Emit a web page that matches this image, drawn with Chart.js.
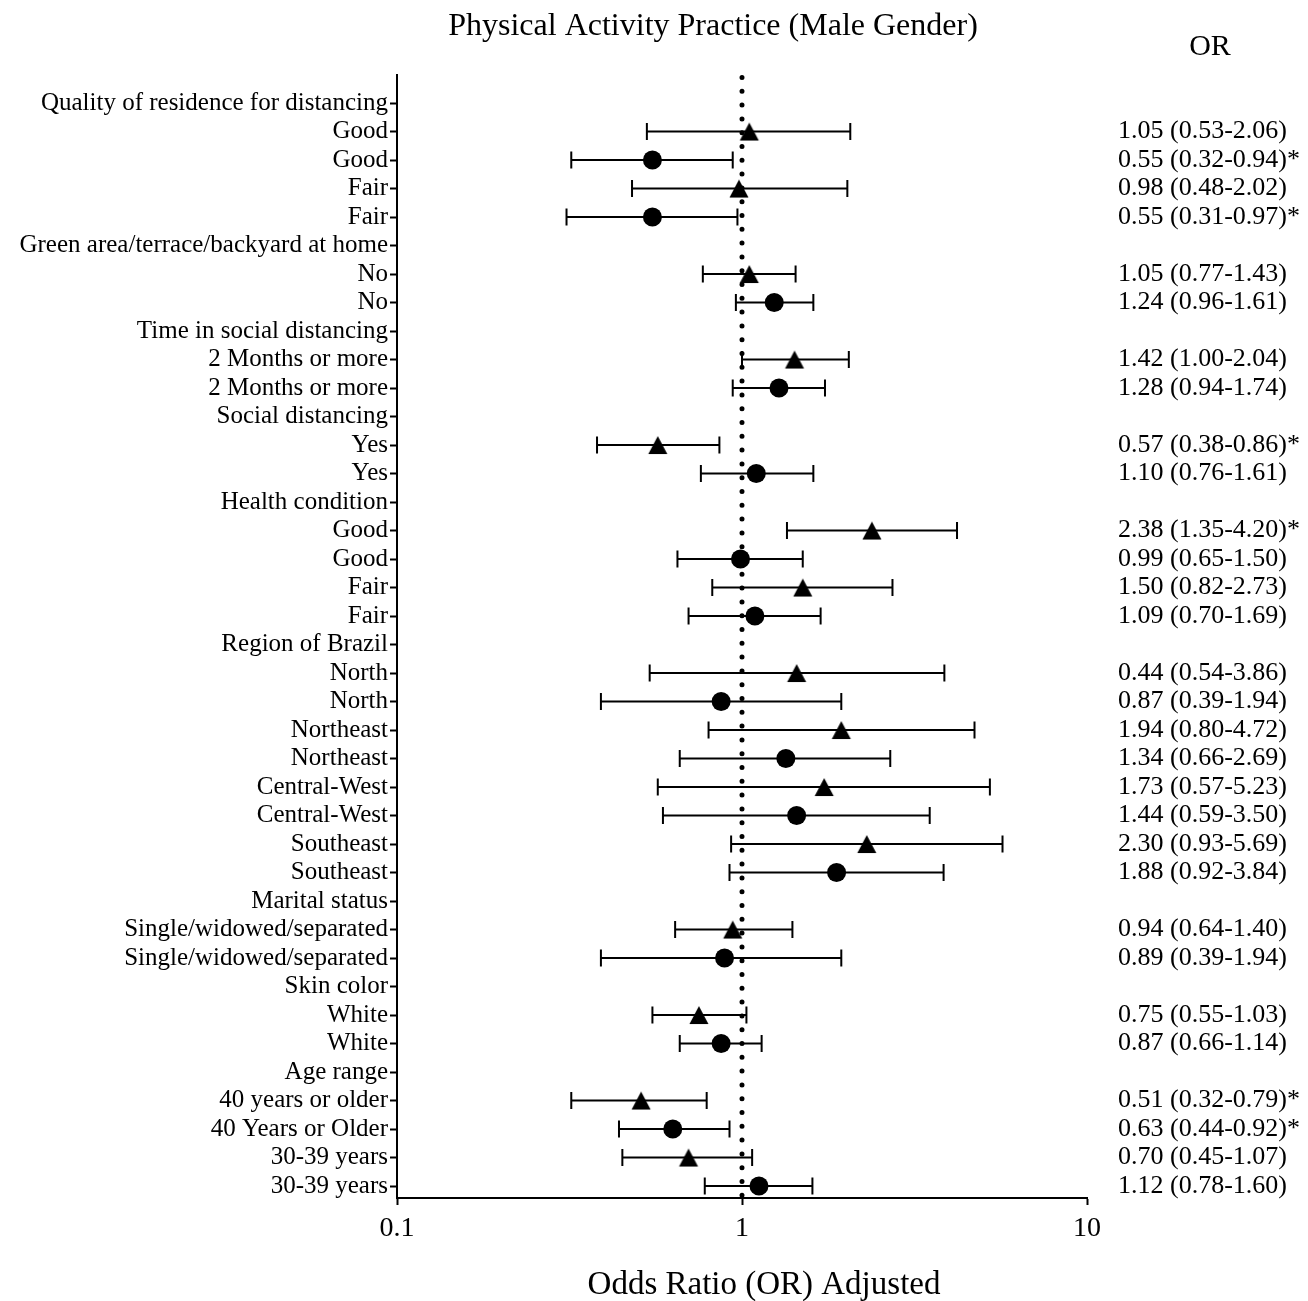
<!DOCTYPE html>
<html>
<head>
<meta charset="utf-8">
<script src="https://cdn.jsdelivr.net/npm/chart.js@4.4.0/dist/chart.umd.min.js"></script>
<style>
  html, body { margin: 0; padding: 0; background: #fff; }
  #wrap { width: 1308px; height: 1301px; }
</style>
</head>
<body>
<div id="wrap"><canvas id="forestChart"></canvas></div>
<script>
// Row labels, top to bottom
const rowLabels = [
  'Quality of residence for distancing', 'Good', 'Good', 'Fair', 'Fair',
  'Green area/terrace/backyard at home', 'No', 'No',
  'Time in social distancing', '2 Months or more', '2 Months or more',
  'Social distancing', 'Yes', 'Yes',
  'Health condition', 'Good', 'Good', 'Fair', 'Fair',
  'Region of Brazil', 'North', 'North', 'Northeast', 'Northeast',
  'Central-West', 'Central-West', 'Southeast', 'Southeast',
  'Marital status', 'Single/widowed/separated', 'Single/widowed/separated',
  'Skin color', 'White', 'White',
  'Age range', '40 years or older', '40 Years or Older', '30-39 years', '30-39 years'
];

// marker per row: '' = group header, 'tri' = triangle, 'circ' = circle
const markerType = [
  '', 'tri', 'circ', 'tri', 'circ',
  '', 'tri', 'circ',
  '', 'tri', 'circ',
  '', 'tri', 'circ',
  '', 'tri', 'circ', 'tri', 'circ',
  '', 'tri', 'circ', 'tri', 'circ', 'tri', 'circ', 'tri', 'circ',
  '', 'tri', 'circ',
  '', 'tri', 'circ',
  '', 'tri', 'circ', 'tri', 'circ'
];

// plotted odds ratios and 95% CI
const orValues = [
  null, 1.05, 0.55, 0.98, 0.55,
  null, 1.05, 1.24,
  null, 1.42, 1.28,
  null, 0.57, 1.10,
  null, 2.38, 0.99, 1.50, 1.09,
  null, 1.44, 0.87, 1.94, 1.34, 1.73, 1.44, 2.30, 1.88,
  null, 0.94, 0.89,
  null, 0.75, 0.87,
  null, 0.51, 0.63, 0.70, 1.12
];
const ciLow = [
  null, 0.53, 0.32, 0.48, 0.31,
  null, 0.77, 0.96,
  null, 1.00, 0.94,
  null, 0.38, 0.76,
  null, 1.35, 0.65, 0.82, 0.70,
  null, 0.54, 0.39, 0.80, 0.66, 0.57, 0.59, 0.93, 0.92,
  null, 0.64, 0.39,
  null, 0.55, 0.66,
  null, 0.32, 0.44, 0.45, 0.78
];
const ciHigh = [
  null, 2.06, 0.94, 2.02, 0.97,
  null, 1.43, 1.61,
  null, 2.04, 1.74,
  null, 0.86, 1.61,
  null, 4.20, 1.50, 2.73, 1.69,
  null, 3.86, 1.94, 4.72, 2.69, 5.23, 3.50, 5.69, 3.84,
  null, 1.40, 1.94,
  null, 1.03, 1.14,
  null, 0.79, 0.92, 1.07, 1.60
];

// text column on the right (as printed)
const orLabels = [
  '', '1.05 (0.53-2.06)', '0.55 (0.32-0.94)*', '0.98 (0.48-2.02)', '0.55 (0.31-0.97)*',
  '', '1.05 (0.77-1.43)', '1.24 (0.96-1.61)',
  '', '1.42 (1.00-2.04)', '1.28 (0.94-1.74)',
  '', '0.57 (0.38-0.86)*', '1.10 (0.76-1.61)',
  '', '2.38 (1.35-4.20)*', '0.99 (0.65-1.50)', '1.50 (0.82-2.73)', '1.09 (0.70-1.69)',
  '', '0.44 (0.54-3.86)', '0.87 (0.39-1.94)', '1.94 (0.80-4.72)', '1.34 (0.66-2.69)',
  '1.73 (0.57-5.23)', '1.44 (0.59-3.50)', '2.30 (0.93-5.69)', '1.88 (0.92-3.84)',
  '', '0.94 (0.64-1.40)', '0.89 (0.39-1.94)',
  '', '0.75 (0.55-1.03)', '0.87 (0.66-1.14)',
  '', '0.51 (0.32-0.79)*', '0.63 (0.44-0.92)*', '0.70 (0.45-1.07)', '1.12 (0.78-1.60)'
];

const xTicks = [0.1, 1, 10];
const chartTitle = 'Physical Activity Practice (Male Gender)';
const xTitle = 'Odds Ratio (OR) Adjusted';

const FONT = "'Liberation Serif', 'DejaVu Serif', serif";

// triangle marker centred on its bounding box (chart.js centres on the centroid)
function makeTriangle() {
  const c = document.createElement('canvas');
  c.width = 22; c.height = 22;
  const g = c.getContext('2d');
  g.fillStyle = '#000';
  g.beginPath();
  g.moveTo(11, 2);
  g.lineTo(20.5, 20);
  g.lineTo(1.5, 20);
  g.closePath();
  g.fill();
  return c;
}

// build point datasets from the arrays
function pointsFor(type) {
  const pts = [];
  rowLabels.forEach((_, i) => {
    if (markerType[i] === type) pts.push({ x: orValues[i], y: i });
  });
  return pts;
}

// error bars + reference line behind the markers, texts on top
const forestPlugin = {
  id: 'forest',
  beforeDatasetsDraw(chart) {
    const { ctx, chartArea, scales: { x, y } } = chart;
    ctx.save();
    ctx.strokeStyle = '#000';
    ctx.lineWidth = 2;
    rowLabels.forEach((_, i) => {
      if (orValues[i] == null) return;
      const yy = y.getPixelForValue(i);
      const x0 = x.getPixelForValue(ciLow[i]);
      const x1 = x.getPixelForValue(ciHigh[i]);
      ctx.beginPath();
      ctx.moveTo(x0, yy); ctx.lineTo(x1, yy);
      ctx.moveTo(x0, yy - 8.5); ctx.lineTo(x0, yy + 8.5);
      ctx.moveTo(x1, yy - 8.5); ctx.lineTo(x1, yy + 8.5);
      ctx.stroke();
    });
    // dotted line at OR = 1
    const xr = x.getPixelForValue(1);
    ctx.lineWidth = 5;
    ctx.lineCap = 'round';
    ctx.setLineDash([0, 13.8]);
    ctx.beginPath();
    ctx.moveTo(xr, chartArea.top + 3);
    ctx.lineTo(xr, chartArea.bottom);
    ctx.stroke();
    ctx.restore();
  },
  afterDraw(chart) {
    const { ctx, chartArea, scales: { y } } = chart;
    ctx.save();
    ctx.fillStyle = '#000';
    ctx.textBaseline = 'middle';
    ctx.textAlign = 'center';
    ctx.font = '32px ' + FONT;
    ctx.fillText(chartTitle, chartArea.left + 316, 27);
    ctx.font = '33px ' + FONT;
    ctx.fillText(xTitle, (chartArea.left + chartArea.right) / 2 + 22, chartArea.bottom + 87);
    ctx.font = '30px ' + FONT;
    ctx.fillText('OR', chartArea.right + 123, chartArea.top - 27);
    ctx.textAlign = 'left';
    ctx.font = '26px ' + FONT;
    orLabels.forEach((t, i) => {
      if (!t) return;
      ctx.fillText(t, chartArea.right + 31, y.getPixelForValue(i));
    });
    ctx.restore();
  }
};

new Chart(document.getElementById('forestChart'), {
  type: 'scatter',
  data: {
    datasets: [
      {
        label: 'Triangle',
        data: pointsFor('tri'),
        pointStyle: makeTriangle(),
        pointRadius: 11,
        pointHoverRadius: 11,
        backgroundColor: '#000',
        borderColor: '#000',
        borderWidth: 0
      },
      {
        label: 'Circle',
        data: pointsFor('circ'),
        pointStyle: 'circle',
        pointRadius: 9.5,
        pointHoverRadius: 9.5,
        backgroundColor: '#000',
        borderColor: '#000',
        borderWidth: 0
      }
    ]
  },
  plugins: [forestPlugin],
  options: {
    responsive: true,
    maintainAspectRatio: false,
    animation: false,
    layout: { padding: { left: 0, right: 221, top: 74.5, bottom: 0 } },
    plugins: {
      legend: { display: false },
      tooltip: { enabled: false },
      title: { display: false }
    },
    scales: {
      x: {
        type: 'logarithmic',
        min: 0.1,
        max: 10,
        afterBuildTicks: (axis) => { axis.ticks = xTicks.map(v => ({ value: v })); },
        afterFit: (axis) => { axis.height = 103; },
        ticks: {
          color: '#000',
          font: { family: FONT, size: 28 },
          padding: 7,
          maxRotation: 0,
          callback: (v) => String(v)
        },
        grid: { drawOnChartArea: false, drawTicks: true, tickLength: 7, color: '#000', tickWidth: 2 },
        border: { display: true, color: '#000', width: 2 }
      },
      y: {
        type: 'linear',
        reverse: true,
        min: -1,
        max: 38.42,
        afterBuildTicks: (axis) => { axis.ticks = rowLabels.map((_, i) => ({ value: i })); },
        afterFit: (axis) => { axis.width = 397; },
        ticks: {
          color: '#000',
          font: { family: FONT, size: 25 },
          padding: 2,
          autoSkip: false,
          callback: (v) => rowLabels[v] || ''
        },
        grid: { drawOnChartArea: false, drawTicks: true, tickLength: 7, color: '#000', tickWidth: 2 },
        border: { display: true, color: '#000', width: 2 }
      }
    }
  }
});
</script>
</body>
</html>
